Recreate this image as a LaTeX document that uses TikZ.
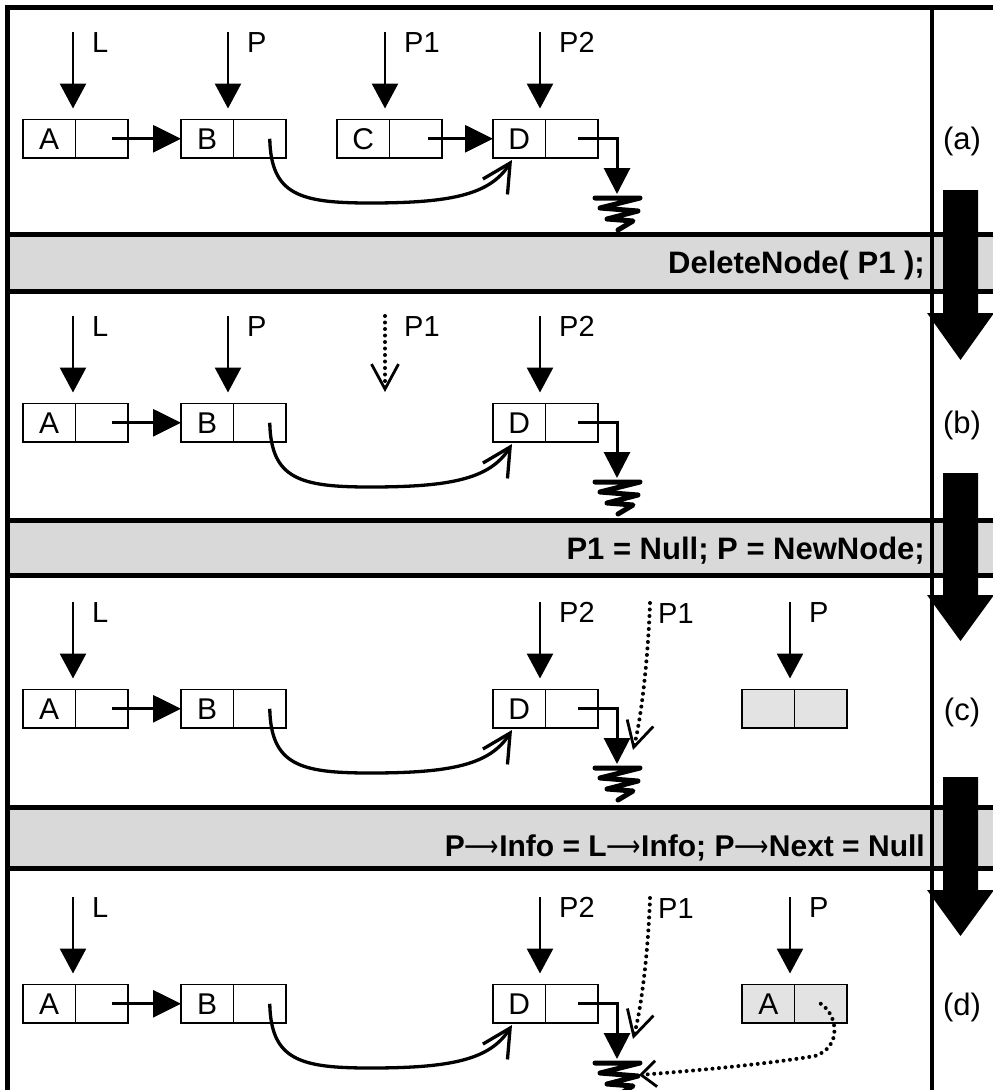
\documentclass[tikz,border=0pt]{standalone}
\usepackage{fontspec}
\usepackage{graphicx}
\setmainfont{Liberation Sans}
\newfontfamily\arrfont{DejaVu Sans}
\usetikzlibrary{arrows.meta}
\definecolor{bandgray}{HTML}{D9D9D9}
\definecolor{nodegray}{HTML}{E3E3E3}
\newcommand\arr{\scalebox{0.8}[1]{\mdseries\arrfont ⟶}}
% list node: name, left x, top y, text, fill
\newcommand\lnode[5]{%
  \node[cell,fill=#5,anchor=north west] (#1) at (#2,#3) {#4};
  \node[cell,fill=#5,anchor=west] (#1n) at (#1.east) {};}
% pointer: name, x, y, label, target node
\newcommand\ptr[5]{%
  \coordinate (#1) at (#2,#3);
  \node[lbl] (#1t) at ([xshift=19pt,yshift=-20pt]#1) {#4};
  \draw[ptrarrow] (#1) -- (#1 |- #5.north);}
\begin{document}
\begin{tikzpicture}[x=1pt,y=-1pt,
  cell/.style={draw,line width=1.4pt,minimum width=52.5pt,minimum height=38.5pt,
    inner sep=0pt,outer sep=0pt,font=\fontsize{30}{30}\selectfont},
  lbl/.style={anchor=base west,inner sep=0pt,font=\fontsize{29}{29}\selectfont},
  ptrarrow/.style={line width=2.8pt,shorten >=11pt,-{Triangle[length=25pt,width=26pt]}},
  nextarr/.style={line width=2.8pt,-{Triangle[length=28pt,width=27pt]}},
  gndarr/.style={line width=3pt,-{Triangle[length=26pt,width=26pt]}},
  curvearr/.style={line width=3.3pt,-{Straight Barb[length=28pt,width=29pt,line width=3.3pt]}},
  dptr/.style={line width=4pt,dash pattern=on 0pt off 6.5pt,line cap=round,
    -{Straight Barb[length=25pt,width=27pt,line width=2.8pt]}},
  dptrs/.style={line width=4pt,dash pattern=on 0pt off 6.5pt,line cap=round,
    -{Straight Barb[length=15pt,width=26pt,line width=2.8pt]}},
  frame/.style={line width=5pt},
  colline/.style={line width=3.5pt},
  bandtext/.style={anchor=base east,inner sep=0pt,font=\bfseries\fontsize{31}{31}\selectfont},
  side/.style={inner sep=0pt,font=\fontsize{31}{31}\selectfont},
  ground/.pic={\draw[line width=5pt,line join=round,line cap=round]
     (-22,0) -- (23,0) -- (-17,10) -- (21,13) -- (-10,21) -- (16,23) -- (1,32);}
]
\useasboundingbox (0,0) rectangle (993,1090);
% bands
\fill[bandgray] (5,234) rectangle (993,291);
\fill[bandgray] (5,520) rectangle (993,575);
\fill[bandgray] (5,807) rectangle (993,868);
% frame
\draw[frame] (7.5,5) -- (7.5,1090);
\draw[frame] (5,7.5) -- (993,7.5);
\foreach \yy in {234,291,520,575,807,868} \draw[frame] (5,\yy) -- (993,\yy);
\draw[colline] (932,5) -- (932,1090);
% big arrows
\fill (943,190) -- (978,190) -- (978,313) -- (994,313) -- (960.5,360) -- (927,313) -- (943,313) -- cycle;
\fill (943,473) -- (978,473) -- (978,595) -- (994,595) -- (960.5,641) -- (927,595) -- (943,595) -- cycle;
\fill (943,777) -- (978,777) -- (978,890) -- (994,890) -- (960.5,936) -- (927,890) -- (943,890) -- cycle;
% side labels
\node[side] (la) at (962,141) {(a)};
\node[side] (lb) at (962,425) {(b)};
\node[side] (lc) at (962,712) {(c)};
\node[side] (ld) at (962,1007) {(d)};
% band texts
\node[bandtext] (t1) at (925,273) {DeleteNode( P1 );};
\node[bandtext] (t2) at (925,559) {P1 = Null; P = NewNode;};
\node[bandtext,font=\bfseries\fontsize{30}{30}\selectfont] (t3) at (925,856)
  {P\arr Info = L\arr Info; P\arr Next = Null};

% ---------- panel (a)
\lnode{aA}{23}{119.5}{A}{white}
\lnode{aB}{181}{119.5}{B}{white}
\lnode{aC}{337}{119.5}{C}{white}
\lnode{aD}{493}{119.5}{D}{white}
\ptr{aL}{73}{32}{L}{aA}
\ptr{aP}{228}{32}{P}{aB}
\ptr{aP1}{385}{32}{P1}{aC}
\ptr{aP2}{540}{32}{P2}{aD}
\draw[nextarr] ([xshift=10pt]aAn.center) -- (aB.west);
\draw[nextarr] ([xshift=12pt]aCn.center) -- (aD.west);
\draw[curvearr] ([xshift=10pt]aBn.center) .. controls (271,195) and (300,203) .. (370,203)
   .. controls (450,203) and (490,195) .. ([xshift=19pt,yshift=-2pt]aD.south west);
\coordinate (aG) at (617,194);
\draw[gndarr] ([xshift=6pt]aDn.center) -| (aG);
\pic at (617,198) {ground};

% ---------- panel (b)
\begin{scope}[shift={(0,284)}]
\lnode{bA}{23}{119.5}{A}{white}
\lnode{bB}{181}{119.5}{B}{white}
\lnode{bD}{493}{119.5}{D}{white}
\ptr{bL}{73}{32}{L}{bA}
\ptr{bP}{228}{32}{P}{bB}
\ptr{bP2}{540}{32}{P2}{bD}
\coordinate (bP1) at (385,32);
\coordinate (bP1e) at (385,108);
\node[lbl] (bP1t) at ([xshift=19pt,yshift=-20pt]bP1) {P1};
\draw[dptr] (bP1) -- (bP1e);
\draw[nextarr] ([xshift=10pt]bAn.center) -- (bB.west);
\draw[curvearr] ([xshift=10pt]bBn.center) .. controls (271,195) and (300,203) .. (370,203)
   .. controls (450,203) and (490,195) .. ([xshift=19pt,yshift=-2pt]bD.south west);
\coordinate (bG) at (617,194);
\draw[gndarr] ([xshift=6pt]bDn.center) -| (bG);
\pic at (617,198) {ground};
\end{scope}

% ---------- panel (c)
\begin{scope}[shift={(0,570)}]
\lnode{cA}{23}{119.5}{A}{white}
\lnode{cB}{181}{119.5}{B}{white}
\lnode{cD}{493}{119.5}{D}{white}
\lnode{cN}{742}{119.5}{}{nodegray}
\ptr{cL}{73}{32}{L}{cA}
\ptr{cP2}{540}{32}{P2}{cD}
\ptr{cP}{790}{32}{P}{cN}
\coordinate (cP1) at (650,33);
\coordinate (cP1e) at (633,180);
\node[lbl] (cP1t) at ([xshift=8pt,yshift=-20pt]cP1) {P1};
\draw[dptr] (cP1) .. controls (648,90) and (641,150) .. (cP1e);
\draw[nextarr] ([xshift=10pt]cAn.center) -- (cB.west);
\draw[curvearr] ([xshift=10pt]cBn.center) .. controls (271,195) and (300,203) .. (370,203)
   .. controls (450,203) and (490,195) .. ([xshift=19pt,yshift=-2pt]cD.south west);
\coordinate (cG) at (617,194);
\draw[gndarr] ([xshift=6pt]cDn.center) -| (cG);
\pic at (617,198) {ground};
\end{scope}

% ---------- panel (d)
\begin{scope}[shift={(0,865)}]
\lnode{dA}{23}{119.5}{A}{white}
\lnode{dB}{181}{119.5}{B}{white}
\lnode{dD}{493}{119.5}{D}{white}
\lnode{dN}{742}{119.5}{A}{nodegray}
\ptr{dL}{73}{32}{L}{dA}
\ptr{dP2}{540}{32}{P2}{dD}
\ptr{dP}{790}{32}{P}{dN}
\coordinate (dP1) at (650,33);
\coordinate (dP1e) at (633,174);
\node[lbl] (dP1t) at ([xshift=8pt,yshift=-20pt]dP1) {P1};
\draw[dptr] (dP1) .. controls (648,90) and (641,145) .. (dP1e);
\draw[nextarr] ([xshift=10pt]dAn.center) -- (dB.west);
\draw[curvearr] ([xshift=10pt]dBn.center) .. controls (271,195) and (300,203) .. (370,203)
   .. controls (450,203) and (490,195) .. ([xshift=19pt,yshift=-2pt]dD.south west);
\coordinate (dG) at (617,194);
\draw[gndarr] ([xshift=6pt]dDn.center) -| (dG);
\pic at (617,198) {ground};
\coordinate (dGt) at (639,210);
\draw[dptrs] (dNn.center) .. controls (838,150) and (842,182) .. (815,191)
   .. controls (760,200) and (690,206) .. (dGt);
\end{scope}
\end{tikzpicture}
\end{document}
